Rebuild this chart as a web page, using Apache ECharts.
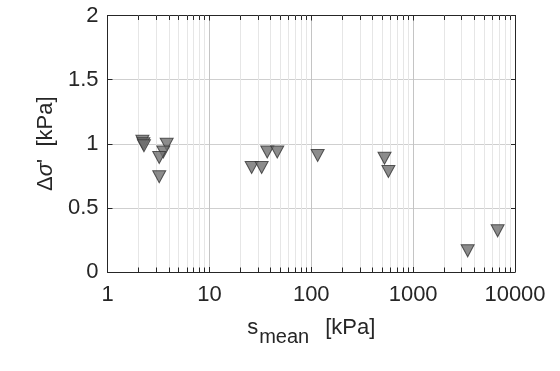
<!DOCTYPE html>
<html>
<head>
<meta charset="utf-8">
<script src="https://cdn.jsdelivr.net/npm/echarts@6/dist/echarts.min.js"></script>
<style>
html,body{margin:0;padding:0;background:#fff;}
#chart{width:560px;height:371px;}
</style>
</head>
<body>
<div id="chart"></div>
<script>
// Data
var sMean = [2.2, 2.25, 2.28, 3.81, 3.53, 3.22, 3.22, 26.0, 32.6, 37.0, 46.4, 115.6, 524, 572, 3430, 6750];
var deltaSigma = [1.02, 1.0, 0.985, 0.996, 0.936, 0.893, 0.743, 0.815, 0.815, 0.936, 0.936, 0.908, 0.887, 0.784, 0.165, 0.321];
var xTickLabels = ['1', '10', '100', '1000', '10000'];
var yTickLabels = ['0', '0.5', '1', '1.5', '2'];
var minorTickValues = [];
[1, 10, 100, 1000].forEach(function (d) {
  for (var k = 2; k <= 9; k++) minorTickValues.push(k * d);
});

var FONT = '"Liberation Sans", Arial, sans-serif';
var TXT = '#262626';

var points = sMean.map(function (x, i) { return [x, deltaSigma[i]]; });

var minorGrid = minorTickValues.map(function (v) { return { xAxis: v }; });
var minorTicks = [];
minorTickValues.forEach(function (v) {
  minorTicks.push([{ coord: [v, 0] }, { coord: [v, 0.035] }]);
  minorTicks.push([{ coord: [v, 2] }, { coord: [v, 1.965] }]);
});

var chart = echarts.init(document.getElementById('chart'), null, { renderer: 'canvas' });
chart.setOption({
  animation: false,
  backgroundColor: '#ffffff',
  grid: { left: 107.5, right: 45, top: 15.5, bottom: 99, containLabel: false },
  xAxis: [{
    type: 'log', logBase: 10, min: 1, max: 10000,
    position: 'bottom',
    name: '{s|s}{sub|mean}{k|[kPa]}',
    nameLocation: 'middle', nameGap: 45,
    nameTextStyle: {
      rich: {
        s: { fontFamily: FONT, fontSize: 22, color: TXT, verticalAlign: 'bottom', padding: [0, 0, 8, 0] },
        sub: { fontFamily: FONT, fontSize: 20, color: TXT, verticalAlign: 'bottom', padding: [0, 0, 0, 1] },
        k: { fontFamily: FONT, fontSize: 22, color: TXT, verticalAlign: 'bottom', padding: [0, 0, 8, 16] }
      }
    },
    axisLine: { show: true, onZero: false, lineStyle: { color: TXT, width: 1 } },
    axisTick: { show: true, inside: true, length: 5, lineStyle: { color: TXT } },
    axisLabel: {
      fontFamily: FONT, fontSize: 22, color: TXT, margin: 12,
      formatter: function (v) {
        var i = Math.round(Math.log10(v));
        return xTickLabels[i] !== undefined ? xTickLabels[i] : '';
      }
    },
    splitLine: { show: true, lineStyle: { color: '#c4c4c4', width: 1 } }
  }, {
    type: 'log', logBase: 10, min: 1, max: 10000,
    position: 'top',
    axisLine: { show: true, onZero: false, lineStyle: { color: TXT, width: 1 } },
    axisTick: { show: true, inside: true, length: 5, lineStyle: { color: TXT } },
    axisLabel: { show: false },
    splitLine: { show: false }
  }],
  yAxis: [{
    type: 'value', min: 0, max: 2, interval: 0.5,
    position: 'left',
    name: '{n|Δ}{i|σ}{n|\'  [kPa]}',
    nameLocation: 'middle', nameGap: 48,
    nameTextStyle: {
      rich: {
        n: { fontFamily: FONT, fontSize: 22, color: TXT },
        i: { fontFamily: FONT, fontSize: 22, color: TXT, fontStyle: 'italic' }
      }
    },
    axisLine: { show: true, onZero: false, lineStyle: { color: TXT, width: 1 } },
    axisTick: { show: true, inside: true, length: 5, lineStyle: { color: TXT } },
    axisLabel: {
      fontFamily: FONT, fontSize: 22, color: TXT, margin: 9,
      formatter: function (v) {
        var i = Math.round(v / 0.5);
        return yTickLabels[i] !== undefined ? yTickLabels[i] : '';
      }
    },
    splitLine: { show: true, lineStyle: { color: '#cfcfcf', width: 1 } }
  }, {
    type: 'value', min: 0, max: 2, interval: 0.5,
    position: 'right',
    axisLine: { show: true, onZero: false, lineStyle: { color: TXT, width: 1 } },
    axisTick: { show: true, inside: true, length: 5, lineStyle: { color: TXT } },
    axisLabel: { show: false },
    splitLine: { show: false }
  }],
  series: [{
    type: 'line',
    data: [],
    xAxisIndex: 0, yAxisIndex: 0,
    silent: true,
    markLine: {
      silent: true, symbol: ['none', 'none'], animation: false,
      label: { show: false },
      lineStyle: { color: '#e6e6e6', width: 1, type: 'solid' },
      data: minorGrid
    },
    z: 1
  }, {
    type: 'line',
    data: [],
    xAxisIndex: 0, yAxisIndex: 0,
    silent: true,
    markLine: {
      silent: true, symbol: ['none', 'none'], animation: false,
      label: { show: false },
      lineStyle: { color: TXT, width: 1, type: 'solid' },
      data: minorTicks
    },
    z: 2
  }, {
    type: 'scatter',
    xAxisIndex: 0, yAxisIndex: 0,
    data: points,
    symbol: 'triangle',
    symbolRotate: 180,
    symbolSize: [13, 12],
    itemStyle: { color: '#6f6f6f', borderColor: '#333333', borderWidth: 1 },
    z: 5
  }]
});
</script>
</body>
</html>
